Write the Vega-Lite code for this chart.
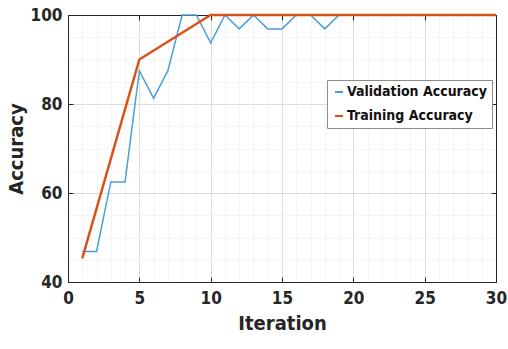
{
  "$schema": "https://vega.github.io/schema/vega-lite/v6.json",
  "width": 428,
  "height": 267,
  "autosize": "none",
  "padding": {"left": 68, "top": 15, "right": 12, "bottom": 67},
  "background": "white",
  "config": {
    "view": {"stroke": "#262626", "strokeWidth": 1},
    "font": "Liberation Sans Narrow, DejaVu Sans Condensed, Liberation Sans, sans-serif"
  },
  "datasets": {
    "val": [
      {"iteration": 1, "accuracy": 46.875, "series": "Validation Accuracy"},
      {"iteration": 2, "accuracy": 46.875, "series": "Validation Accuracy"},
      {"iteration": 3, "accuracy": 62.5, "series": "Validation Accuracy"},
      {"iteration": 4, "accuracy": 62.5, "series": "Validation Accuracy"},
      {"iteration": 5, "accuracy": 87.5, "series": "Validation Accuracy"},
      {"iteration": 6, "accuracy": 81.25, "series": "Validation Accuracy"},
      {"iteration": 7, "accuracy": 87.5, "series": "Validation Accuracy"},
      {"iteration": 8, "accuracy": 100, "series": "Validation Accuracy"},
      {"iteration": 9, "accuracy": 100, "series": "Validation Accuracy"},
      {"iteration": 10, "accuracy": 93.75, "series": "Validation Accuracy"},
      {"iteration": 11, "accuracy": 100, "series": "Validation Accuracy"},
      {"iteration": 12, "accuracy": 96.875, "series": "Validation Accuracy"},
      {"iteration": 13, "accuracy": 100, "series": "Validation Accuracy"},
      {"iteration": 14, "accuracy": 96.875, "series": "Validation Accuracy"},
      {"iteration": 15, "accuracy": 96.875, "series": "Validation Accuracy"},
      {"iteration": 16, "accuracy": 100, "series": "Validation Accuracy"},
      {"iteration": 17, "accuracy": 100, "series": "Validation Accuracy"},
      {"iteration": 18, "accuracy": 96.875, "series": "Validation Accuracy"},
      {"iteration": 19, "accuracy": 100, "series": "Validation Accuracy"},
      {"iteration": 20, "accuracy": 100, "series": "Validation Accuracy"},
      {"iteration": 25, "accuracy": 100, "series": "Validation Accuracy"},
      {"iteration": 30, "accuracy": 100, "series": "Validation Accuracy"}
    ],
    "train": [
      {"iteration": 1, "accuracy": 45.3, "series": "Training Accuracy"},
      {"iteration": 5, "accuracy": 90, "series": "Training Accuracy"},
      {"iteration": 10, "accuracy": 100, "series": "Training Accuracy"},
      {"iteration": 15, "accuracy": 100, "series": "Training Accuracy"},
      {"iteration": 20, "accuracy": 100, "series": "Training Accuracy"},
      {"iteration": 25, "accuracy": 100, "series": "Training Accuracy"},
      {"iteration": 30, "accuracy": 100, "series": "Training Accuracy"}
    ]
  },
  "resolve": {"axis": {"x": "independent", "y": "independent"}},
  "layer": [
    {
      "data": {"name": "val"},
      "mark": {"type": "line", "strokeWidth": 1.5, "clip": false},
      "encoding": {
        "x": {
          "field": "iteration", "type": "quantitative",
          "scale": {"domain": [0, 30], "nice": false, "zero": false},
          "axis": {
            "orient": "bottom",
            "title": "Iteration",
            "titleFontSize": 20,
            "titleFontWeight": "bold",
            "titleColor": "#262626",
            "titlePadding": 7,
            "values": [0,1,2,3,4,5,6,7,8,9,10,11,12,13,14,15,16,17,18,19,20,21,22,23,24,25,26,27,28,29,30],
            "labelExpr": "datum.value % 5 === 0 ? datum.label : ''",
            "labelFontSize": 17,
            "labelFontWeight": "bold",
            "labelColor": "#262626",
            "labelPadding": 13,
            "labelFlush": false,
            "labelOverlap": false,
            "tickSize": -5,
            "tickColor": "#262626",
            "tickOpacity": {"condition": {"test": "datum.value % 5 === 0", "value": 1}, "value": 0},
            "domainColor": "#262626",
            "grid": true,
            "gridColor": {"condition": {"test": "datum.value % 5 === 0", "value": "#dcdcdc"}, "value": "#f4f4f4"}
          }
        },
        "y": {
          "field": "accuracy", "type": "quantitative",
          "scale": {"domain": [40, 100], "nice": false, "zero": false},
          "axis": {
            "orient": "left",
            "title": "Accuracy",
            "titleFontSize": 20,
            "titleFontWeight": "bold",
            "titleColor": "#262626",
            "titlePadding": 4,
            "values": [40,45,50,55,60,65,70,75,80,85,90,95,100],
            "labelExpr": "datum.value % 20 === 0 ? datum.label : ''",
            "labelFontSize": 17,
            "labelFontWeight": "bold",
            "labelColor": "#262626",
            "labelPadding": 11,
            "labelFlush": false,
            "labelOverlap": false,
            "tickSize": -5,
            "tickColor": "#262626",
            "tickOpacity": {"condition": {"test": "datum.value % 20 === 0", "value": 1}, "value": 0},
            "domainColor": "#262626",
            "grid": true,
            "gridColor": {"condition": {"test": "datum.value % 20 === 0", "value": "#dcdcdc"}, "value": "#f4f4f4"}
          }
        },
        "color": {
          "field": "series", "type": "nominal",
          "scale": {"domain": ["Validation Accuracy", "Training Accuracy"], "range": ["#4a9fd6", "#d95319"]},
          "legend": {
            "title": null,
            "orient": "none",
            "legendX": 259,
            "legendY": 65,
            "fillColor": "white",
            "strokeColor": "#8c8c8c",
            "padding": 5,
            "labelFontSize": 14,
            "labelFontWeight": "bold",
            "labelColor": "#111111",
            "labelOffset": 1,
            "labelLimit": 200,
            "symbolType": "stroke",
            "symbolSize": 64,
            "symbolStrokeWidth": 2,
            "rowPadding": 10
          }
        }
      }
    },
    {
      "data": {"name": "train"},
      "mark": {"type": "line", "strokeWidth": 2.5, "clip": false},
      "encoding": {
        "x": {
          "field": "iteration", "type": "quantitative",
          "axis": {
            "orient": "top",
            "title": null,
            "values": [0,5,10,15,20,25,30],
            "labels": false,
            "tickSize": -5,
            "tickColor": "#262626",
            "domainColor": "#262626",
            "grid": false
          }
        },
        "y": {
          "field": "accuracy", "type": "quantitative",
          "axis": {
            "orient": "right",
            "title": null,
            "values": [40,60,80,100],
            "labels": false,
            "tickSize": -5,
            "tickColor": "#262626",
            "domainColor": "#262626",
            "grid": false
          }
        },
        "color": {"field": "series", "type": "nominal"}
      }
    }
  ]
}
